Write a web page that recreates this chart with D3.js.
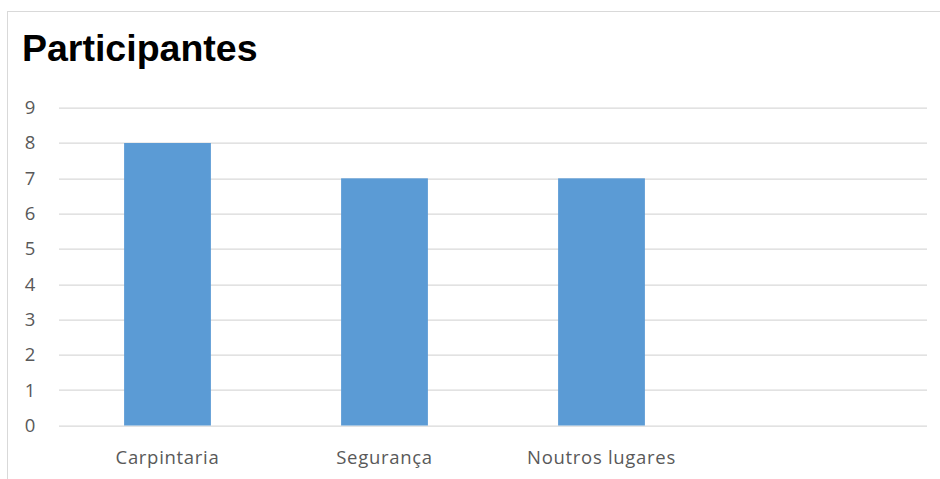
<!DOCTYPE html>
<html>
<head>
<meta charset="utf-8">
<script src="https://cdn.jsdelivr.net/npm/d3@7"></script>
<style>
  body { margin: 0; background: #fff; }
  svg { display: block; }
</style>
</head>
<body>
<svg width="940" height="479"></svg>
<script>
const CATEGORIES = ['Carpintaria', 'Segurança', 'Noutros lugares', '']
const VALUES = [8, 7, 7, null]
const Y_TICKS = [0, 1, 2, 3, 4, 5, 6, 7, 8, 9]
const TITLE = 'Participantes'

const svg = d3.select('svg')
const margin = { top: 107.7, right: 13, bottom: 53.5, left: 59 }
const width = 940 - margin.left - margin.right
const height = 479 - margin.top - margin.bottom

// chart frame (only left and top edges show in the crop)
svg.append('rect')
  .attr('x', 7.5).attr('y', 11.5)
  .attr('width', 1000).attr('height', 1000)
  .attr('fill', 'none').attr('stroke', '#d9d9d9')

svg.append('text')
  .attr('x', 22).attr('y', 61)
  .attr('font-family', 'Liberation Sans, Arial, sans-serif')
  .attr('font-weight', 'bold')
  .attr('font-size', 37.5)
  .attr('fill', '#000')
  .text(TITLE)

const x = d3.scaleBand().domain(d3.range(CATEGORIES.length)).range([0, width]).paddingInner(0.6).paddingOuter(0.3)
const y = d3.scaleLinear().domain([0, 9]).range([height, 0])

const g = svg.append('g').attr('transform', `translate(${margin.left},${margin.top})`)

g.append('g')
  .selectAll('line')
  .data(Y_TICKS)
  .enter().append('line')
  .attr('x1', 0).attr('x2', width)
  .attr('y1', d => Math.round(y(d)) + 0.5)
  .attr('y2', d => Math.round(y(d)) + 0.5)
  .attr('stroke', '#d9d9d9').attr('stroke-width', 1.3)

g.append('g')
  .selectAll('text')
  .data(Y_TICKS)
  .enter().append('text')
  .attr('x', -29).attr('y', d => y(d))
  .attr('dy', '0.35em')
  .attr('text-anchor', 'middle')
  .attr('font-family', 'Open Sans, sans-serif')
  .attr('font-size', 18.5)
  .attr('fill', '#595959')
  .text(d => d)

g.append('g')
  .selectAll('rect')
  .data(VALUES.map((v, i) => ({ v, i })).filter(d => d.v != null))
  .enter().append('rect')
  .attr('x', d => x(d.i))
  .attr('y', d => y(d.v))
  .attr('width', x.bandwidth())
  .attr('height', d => height - y(d.v))
  .attr('fill', '#5b9bd5')

g.append('g')
  .selectAll('text')
  .data(CATEGORIES)
  .enter().append('text')
  .attr('x', (d, i) => x(i) + x.bandwidth() / 2)
  .attr('y', height + 39)
  .attr('text-anchor', 'middle')
  .attr('font-family', 'Open Sans, sans-serif')
  .attr('font-size', 18.5)
  .attr('letter-spacing', 0.7)
  .attr('fill', '#595959')
  .text(d => d)
</script>
</body>
</html>
